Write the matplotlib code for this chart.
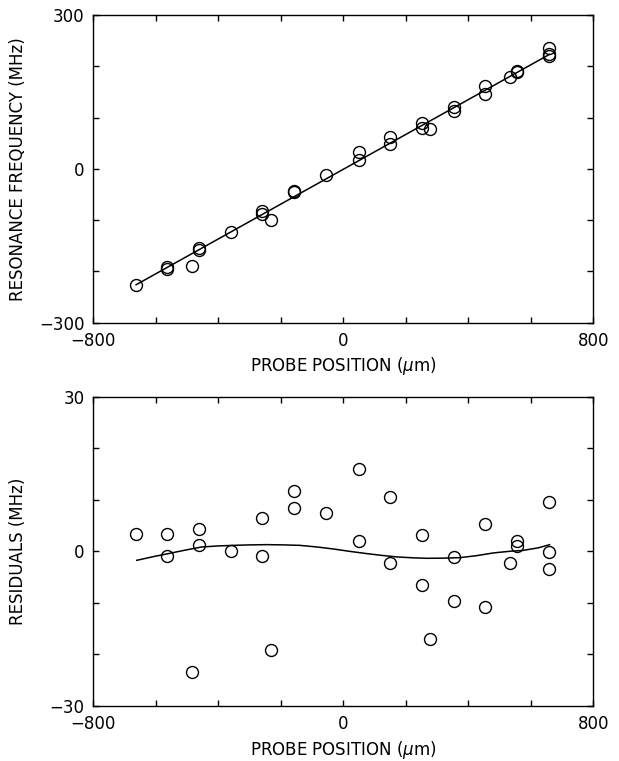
import numpy as np
import matplotlib
matplotlib.use("Agg")
import matplotlib.pyplot as plt

plt.rcParams['font.family'] = ['DejaVu Sans']
plt.rcParams['mathtext.fontset'] = 'dejavusans'

# probe positions (um) of every measurement
pos = [-663, -563, -563, -484, -461, -461, -359, -259, -259, -233,
       -157, -157, -55, 49, 49, 150, 150, 253, 253, 277,
       354, 354, 454, 454, 533, 557, 557, 659, 659, 659]

# resonance frequency (MHz)
freq = [-226, -192, -195, -190, -155, -158, -124, -83, -89, -100,
        -44, -46, -12, 33, 18, 63, 48, 90, 80, 78,
        120, 112, 162, 145, 180, 191, 188, 235, 224, 221]

# residuals from linear fit (MHz)
resid = [3.4, 3.4, -1.0, -23.4, 4.4, 1.2, 0.0, 6.5, -1.0, -19.2,
         11.8, 8.5, 7.5, 16.0, 2.1, 10.6, -2.2, 3.1, -6.5, -17.1,
         -1.1, -9.7, 5.3, -10.8, -2.3, 2.1, 1.0, 9.5, -0.1, -3.4]

# linear fit
fit_x = [-663, 659]
fit_y = [-226, 223]

# smooth curve on residual panel
curve_x = [-661, -610, -560, -505, -453, -400, -352, -300, -245, -190, -139,
           -85, -32, 20, 75, 125, 171, 220, 267, 320, 373, 425, 480, 530,
           576, 625, 660]
curve_y = [-1.74, -1.05, -0.44, 0.25, 0.85, 1.05, 1.16, 1.25, 1.30, 1.25, 1.16,
           0.85, 0.46, 0.0, -0.44, -0.80, -1.08, -1.25, -1.35, -1.32, -1.22,
           -0.85, -0.31, 0.0, 0.19, 0.70, 1.30]

fig = plt.figure(figsize=(6.19, 7.61), dpi=100)
ax1 = fig.add_axes([0.1508, 0.5760, 0.8078, 0.4043])
ax2 = fig.add_axes([0.1508, 0.0723, 0.8078, 0.4064])

fs = 12
mk = dict(marker='o', ms=8.6, mfc='none', mec='black', mew=1.0, ls='none')

ax1.plot(fit_x, fit_y, color='black', lw=1.1)
ax1.plot(pos, freq, **mk)
ax2.plot(curve_x, curve_y, color='black', lw=1.1)
ax2.plot(pos, resid, **mk)

xt = np.arange(-800, 801, 200)
xlab = ['\u2212800', '', '', '', '0', '', '', '', '800']

for ax in (ax1, ax2):
    ax.set_xlim(-800, 800)
    ax.set_xticks(xt)
    ax.set_xticklabels(xlab)
    ax.tick_params(direction='in', top=True, right=True, length=4, width=1,
                   labelsize=fs, pad=6.5)
    for s in ax.spines.values():
        s.set_linewidth(1.0)
    ax.set_xlabel(r'PROBE POSITION ($\mu$m)', fontsize=fs)
    ax.xaxis.set_label_coords(0.5, -0.106)

ax1.set_ylim(-300, 300)
ax1.set_yticks(np.arange(-300, 301, 100))
ax1.set_yticklabels(['\u2212300', '', '', '0', '', '', '300'])
ax1.set_ylabel('RESONANCE FREQUENCY (MHz)', fontsize=fs)
ax1.yaxis.set_label_coords(-0.133, 0.5)

ax2.set_ylim(-30, 30)
ax2.set_yticks(np.arange(-30, 31, 10))
ax2.set_yticklabels(['\u221230', '', '', '0', '', '', '30'])
ax2.set_ylabel('RESIDUALS (MHz)', fontsize=fs)
ax2.yaxis.set_label_coords(-0.133, 0.5)

fig.savefig('out.png', dpi=100)
